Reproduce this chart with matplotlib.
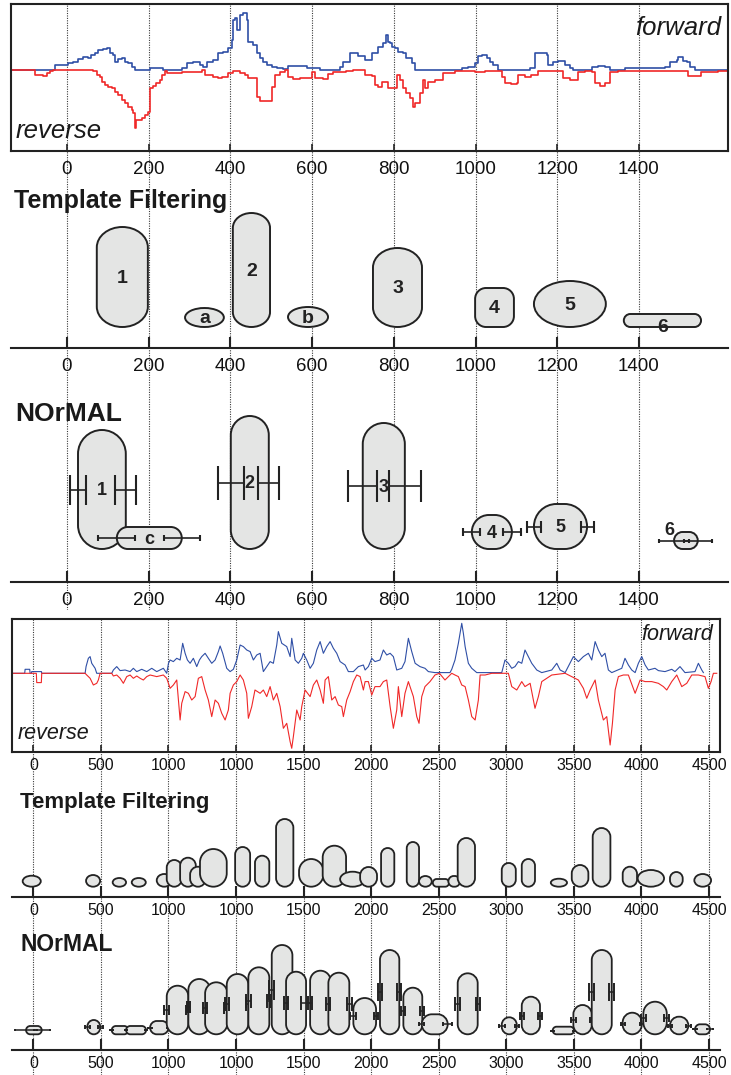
import matplotlib
matplotlib.use("Agg")
import matplotlib.pyplot as plt
from matplotlib.patches import Ellipse, PathPatch
from matplotlib.path import Path

plt.rcParams["font.family"] = ["Liberation Sans", "DejaVu Sans"]

# ---------------------------------------------------------------- short region
short_ticks = [0, 200, 400, 600, 800, 1000, 1200, 1400]

fwd_short_x = [-137, -29, 3, 15, 28, 40, 52, 60, 68, 77, 89, 97, 105, 113, 117, 126, 134, 142,
               150, 158, 166, 203, 236, 281, 293, 309, 325, 334, 342, 358, 370, 383, 395, 403,
               407, 411, 415, 423, 432, 440, 444, 456, 464, 472, 481, 489, 501, 513, 529, 542,
               562, 587, 619, 668, 676, 693, 713, 729, 746, 762, 774, 780, 785, 791, 795, 803,
               811, 823, 831, 844, 852, 966, 982, 999, 1007, 1015, 1027, 1035, 1043, 1056, 1133,
               1145, 1162, 1174, 1178, 1190, 1203, 1219, 1231, 1239, 1284, 1300, 1317, 1329, 1366,
               1464, 1476, 1492, 1496, 1508, 1517, 1525, 1537, 1618]
fwd_short_y = [0, 5, 6.7, 8.3, 10.7, 13.3, 11.7, 15, 16.7, 20, 20.7, 21.7, 16.7, 15, 8.3, 10.7, 11.7, 8.3,
               6.7, 3.3, 0, 1.7, 0, 1.7, 6.7, 7.7, 5, 3.3, 8.3, 10, 16.7, 18.3, 21.7, 30,
               50, 51.7, 40, 55, 56.7, 50, 28.3, 25, 16.7, 11.7, 8.3, 5, 3.3, 2.3, 0.7, 4,
               4, 1.7, 0, 3.3, 8.3, 16.7, 14, 10, 16.7, 23.3, 26.7, 35, 28.3, 26.7, 23.3, 21.7,
               18.3, 16.7, 11.7, 6.7, 0, 1.7, 3.3, 6.7, 14, 15, 11.7, 8.3, 5, 0, 1.7,
               16.7, 17.3, 15, 5, 8.3, 9, 5, 1.7, 0, 3.3, 4, 3.3, 0, 1.7,
               3.3, 8.3, 10, 12.7, 9.3, 8.3, 3.3, 0, 0]

rev_short_x = [-137, -78, -58, -50, -42, -33, 64, 73, 81, 85, 93, 101, 109, 117, 126, 134, 142, 150,
               158, 162, 166, 170, 183, 191, 199, 203, 211, 219, 228, 232, 240, 244, 281, 330,
               338, 358, 370, 379, 395, 407, 423, 436, 444, 464, 472, 501, 509, 521, 533, 542,
               554, 570, 599, 607, 627, 640, 652, 684, 701, 729, 746, 754, 762, 770, 786, 807,
               815, 823, 831, 840, 848, 852, 864, 872, 876, 884, 901, 921, 950, 999, 1023, 1064,
               1072, 1088, 1101, 1105, 1121, 1137, 1154, 1203, 1215, 1231, 1251, 1268, 1284, 1292,
               1305, 1317, 1329, 1349, 1464, 1521, 1553, 1594, 1618]
rev_short_y = [0, -5, -6, -3.3, -0.7, 0, -0.7, -5, -6.7, -11.7, -15, -17.3, -18.3, -21.7, -25, -30, -33.3, -36.7,
               -40, -43.3, -58.3, -50, -48.3, -45, -41.7, -18.3, -16, -13.3, -10, -5, -0.7, -3.3, -1.7, 0,
               -5, -6.7, -8.3, -6.7, -3.3, -0.7, -3.3, -5, -8.3, -26.7, -30.7, -16.7, -5, -1.7, 0, -6.7,
               -8.7, -8.3, -1.7, -8.3, -9, -4, -1.7, -0.7, 0, -5, -6, -15, -16.7, -11.7, -18.3, -5,
               -10, -18.3, -23.3, -28.3, -36.7, -33.3, -23.3, -10, -18.3, -11.7, -10, -3.3, -0.7, -1.7, -0.7, -6.7,
               -13.3, -14, -13.3, -5, -6.7, -5, -1, -0.7, -8.3, -10, -1.7, -0.7, -1.7, -13.3,
               -16, -13.3, -1.7, -1, -0.7, -6, -1.7, -0.7, 0]

# template filtering calls, short region
tf_short_start = [73, 289, 406, 541, 749, 999, 1143, 1363]
tf_short_end = [198, 384, 497, 639, 869, 1094, 1319, 1552]
tf_short_top = [12.1, 4.0, 13.5, 4.1, 10.0, 6.0, 6.7, 3.4]
tf_short_kind = ["o", "e", "o", "e", "o", "r", "e", "c"]
tf_short_label = ["1", "a", "2", "b", "3", "4", "5", "6"]
TF_SHORT_BASE = 2.1

# NOrMAL calls, short region (boundaries with their uncertainties)
nm_short_start = [27, 122, 401, 724, 991, 1143, 1486]
nm_short_end = [144, 281, 494, 827, 1089, 1273, 1544]
nm_short_top = [15.2, 5.5, 16.6, 15.9, 6.7, 7.8, 5.0]
nm_short_start_err = [20, 45, 32, 35, 21, 17, 37]
nm_short_end_err = [26, 44, 26, 39, 22, 16, 34]
nm_short_label = ["1", "c", "2", "3", "4", "5", "6"]
NM_SHORT_BASE = 3.3

# ---------------------------------------------------------------- long region
long_ticks = [0, 500, 1000, 1500, 2000, 2500, 3000, 3500, 4000, 4500, 5000]
long_tick_labels = ["0", "500", "1000", "1000", "1500", "2000", "2500", "3000", "3500", "4000", "4500"]

fwd_long_x = [-158, -64, -61, -27, -24, -14, -12, 60, 62, 383, 390, 407, 420, 432, 457, 469, 580, 592,
              617, 642, 679, 716, 740, 765, 802, 839, 876, 913, 962, 987, 1000, 1012, 1036, 1061, 1086,
              1105, 1123, 1140, 1160, 1184, 1209, 1229, 1246, 1271, 1295, 1320, 1345, 1369, 1382, 1401,
              1431, 1456, 1480, 1505, 1530, 1554, 1579, 1604, 1628, 1653, 1678, 1702, 1727, 1752, 1776,
              1801, 1813, 1838, 1875, 1900, 1912, 1937, 1961, 1986, 1998, 2023, 2048, 2072, 2097, 2122,
              2146, 2171, 2196, 2220, 2245, 2270, 2307, 2331, 2368, 2405, 2442, 2455, 2479, 2504, 2528,
              2565, 2590, 2615, 2640, 2664, 2689, 2726, 2750, 2775, 2800, 2825, 2861, 2898, 2923, 2972,
              3083, 3096, 3120, 3145, 3170, 3182, 3195, 3219, 3244, 3281, 3466, 3490, 3515, 3540, 3564,
              3589, 3614, 3638, 3663, 3688, 3725, 3762, 3836, 3873, 3898, 3935, 3996, 4033, 4070, 4107,
              4132, 4157, 4181, 4206, 4230, 4255, 4280, 4354, 4378, 4403, 4428, 4453, 4477, 4502, 4527,
              4551, 4600, 4625, 4674, 4724, 4748, 4785, 4822, 4896, 4921, 4946, 4958]
fwd_long_y = [0, 0, 4, 4, 0, 0, 1.7, 1.7, 0, 0, 6.7, 15, 16.7, 10, 5, 0, 0, 3.3,
              6.7, 2.7, 3.3, 1.7, 5, 1.7, 4, 1.7, 5, 1.7, 5, 0, 10, 13.3, 11.7, 15, 13.3,
              30, 20, 13.3, 10, 15, 6.7, 13.3, 16.7, 20, 15, 10, 13.3, 21.7, 27.3, 20,
              5, 1.7, 4, 13.3, 28.3, 26.7, 23.3, 21.7, 13.3, 18.3, 20, 1.7, 6.7, 11.7, 10,
              28.3, 41.7, 30, 26.7, 16.7, 35, 13.3, 10, 15, 20, 13.3, 5, 10, 23.3, 31.7,
              20, 26.7, 31.7, 25, 20, 11.7, 8.3, 1.7, 1.7, 6.7, 8.3, 3.3, 6.7, 15, 11.7,
              13.3, 23.3, 18.3, 20, 16.7, 3.3, 5, 11.7, 35, 21.7, 10, 6.7, 5, 1.7, 0.7,
              0.7, 4, 13.3, 30, 50, 40, 26.7, 10, 5, 0.7, 0.7, 13.3, 10, 5, 6.7,
              11.7, 10, 23.3, 16.7, 10, 3.3, 0.7, 3.3, 10, 3.3, 0.7, 16.7, 11.7, 16.7, 20,
              13.3, 31.7, 23.3, 16.7, 20, 3.3, 0.7, 5, 15, 8.3, 3.3, 0.7, 10, 16.7, 8.3,
              3.3, 5, 2.7, 1.7, 4, 1.7, 6.7, 0.7, 1.7, 10, 3.3, 0.7]

rev_long_x = [-158, 22, 25, 59, 62, 383, 395, 420, 444, 469, 481, 494, 580, 592, 617, 642, 666, 691,
              716, 740, 765, 790, 814, 839, 864, 913, 962, 987, 1012, 1036, 1061, 1086, 1098, 1123,
              1147, 1172, 1197, 1221, 1246, 1271, 1295, 1320, 1345, 1369, 1394, 1419, 1443, 1456, 1480,
              1505, 1530, 1554, 1579, 1591, 1616, 1640, 1678, 1702, 1727, 1752, 1776, 1801, 1826, 1850,
              1875, 1900, 1912, 1924, 1949, 1974, 1986, 2011, 2048, 2072, 2097, 2122, 2146, 2159, 2183,
              2208, 2233, 2257, 2282, 2294, 2319, 2344, 2368, 2393, 2418, 2442, 2455, 2479, 2504, 2528,
              2565, 2590, 2615, 2640, 2664, 2689, 2701, 2726, 2750, 2775, 2812, 2837, 2854, 2874, 2898,
              2935, 2972, 3005, 3046, 3096, 3120, 3145, 3170, 3195, 3219, 3244, 3269, 3293, 3306, 3343,
              3392, 3515, 3540, 3577, 3614, 3638, 3676, 3712, 3737, 3762, 3799, 3836, 3935, 3984, 4033,
              4070, 4095, 4120, 4157, 4181, 4218, 4243, 4268, 4285, 4305, 4329, 4366, 4403, 4453, 4490,
              4527, 4576, 4625, 4662, 4687, 4724, 4761, 4798, 4835, 4872, 4921, 4970, 4995, 5015, 5032,
              5057]
rev_long_y = [0, 0, -9.3, -9.3, 0, 0, -1.7, -5, -11.7, -10, -6.7, 0, 0, -2.7, -1.7, -5, -10, -3.3,
              -1.7, -5, -2.7, -5, -6.7, -3.3, -1.7, -3.3, -1.7, -5, -15, -11.7, -6.7, -46.7, -30, -18.3,
              -20, -26.7, -23.3, -5, -3.3, -16.7, -26.7, -43.3, -26.7, -30, -40, -46.7, -36.7, -20, -11.7,
              -8.3, -1.7, -6.7, -20, -45, -33.3, -16.7, -20, -16.7, -23.3, -13.3, -26.7, -20, -33.3, -55,
              -50, -68.3, -75, -63.3, -36.7, -46.7, -33.3, -16.7, -23.3, -11.7, -6.7, -16.7, -30, -6.7, -3.3,
              -26.7, -23.3, -31.7, -33.3, -43.3, -26.7, -18.3, -8.3, -1.7, -3.3, -16.7, -8.3, -8.3, -21.7, -13.3,
              -13.3, -8.3, -6.7, -33.3, -55, -36.7, -13.3, -43.3, -20, -8.3, -23.3, -43.3, -50, -23.3, -13.3,
              -8.3, -1.7, 0, -6.7, 0, -1.7, -3.3, -11.7, -13.3, -26.7, -43.3, -46.7, -26.7, -1.7, -1.7,
              0, 0, -13.3, -16.7, -8.3, -13.3, -10, -35, -23.3, -8.3, -5, -1.7, 0, -3.3, -6.7,
              -15, -25, -16.7, -6.7, -26.7, -46.7, -43.3, -71.7, -50, -16.7, -3.3, -1.7, -1.7, -20, -6.7,
              -8.3, -8.3, -10, -13.3, -16.7, -8.3, -1.7, -13.3, -10, -1.7, -1.7, -3.3, -15, -8.3, 0,
              0]

# template filtering calls, long region
tf_long_start = [-79, 390, 587, 728, 913, 987, 1086, 1160, 1233, 1493, 1640, 1796, 1966, 2141, 2270, 2418,
                 2573, 2763, 2854, 2956, 3071, 3140, 3466, 3614, 3829, 3984, 4139, 4361, 4472, 4711, 4891]
tf_long_end = [55, 494, 686, 832, 1024, 1098, 1202, 1276, 1431, 1604, 1746, 1924, 2146, 2314, 2455, 2543,
               2671, 2854, 2948, 3076, 3158, 3268, 3570, 3712, 3949, 4107, 4270, 4467, 4667, 4805, 5015]
tf_long_top = [2.13, 2.2, 1.9, 1.9, 2.3, 3.7, 3.93, 3.03, 4.8, 5.0, 4.13, 7.8, 3.8, 5.13, 2.53, 3.0,
               4.9, 5.5, 2.1, 1.8, 2.1, 5.9, 3.4, 3.8, 1.83, 3.2, 6.9, 3.03, 2.7, 2.5, 2.3]
tf_long_kind = ["e", "e", "e", "e", "e", "c", "c", "c", "c", "c", "c", "c", "c", "c", "e", "c",
                "c", "c", "e", "c", "c", "c", "c", "c", "e", "c", "c", "c", "e", "c", "e"]
TF_LONG_BASE = 1.03

# NOrMAL calls, long region
nm_long_start = [-54, 400, 580, 686, 864, 987, 1147, 1271, 1431, 1591, 1764, 1870, 2048, 2183, 2368,
                 2565, 2738, 2874, 3140, 3466, 3614, 3843, 3996, 4132, 4361, 4514, 4711, 4896]
nm_long_end = [62, 494, 703, 834, 1000, 1147, 1308, 1436, 1591, 1746, 1917, 2018, 2200, 2338, 2536,
               2708, 2878, 3066, 3288, 3577, 3749, 4001, 4132, 4280, 4502, 4687, 4847, 5007]
nm_long_top = [2.4, 3.0, 2.4, 2.4, 2.9, 6.43, 7.1, 6.77, 7.6, 8.27, 10.5, 7.83, 7.93, 7.73, 5.2,
               10.0, 6.23, 3.57, 7.67, 3.27, 5.33, 2.33, 4.5, 10.0, 3.73, 4.83, 3.33, 2.57]
nm_long_start_err = [80, 18, 10, 10, 12, 18, 12, 12, 16, 18, 18, 14, 14, 14, 22,
                     18, 14, 18, 18, 22, 14, 10, 18, 18, 14, 18, 14, 18]
nm_long_end_err = [60, 18, 10, 10, 12, 21, 12, 22, 16, 14, 18, 35, 14, 20, 14,
                   14, 14, 35, 14, 16, 14, 8, 10, 18, 14, 18, 18, 22]
NM_LONG_BASE = 1.57

# ---------------------------------------------------------------- styling
BLUE = "#2f4fa6"
RED = "#f02828"
EDGE = "#222222"
FILL = "#e4e5e4"
GRID = "#3a3a3a"

W, H = 731, 1075
fig = plt.figure(figsize=(W / 100, H / 100), dpi=100)


def panel(l, t, r, b):
    ax = fig.add_axes([l / W, 1 - b / H, (r - l) / W, (b - t) / H])
    ax.set_facecolor("none")
    return ax


def px_per_unit(ax):
    p0 = ax.transData.transform((0, 0))
    p1 = ax.transData.transform((1, 1))
    return p1[0] - p0[0], p1[1] - p0[1]


def capsule_path(x0, x1, y0, y1, rx, ry):
    k = 0.5523
    v = [(x0 + rx, y0), (x1 - rx, y0),
         (x1 - rx + k * rx, y0), (x1, y0 + ry - k * ry), (x1, y0 + ry),
         (x1, y1 - ry),
         (x1, y1 - ry + k * ry), (x1 - rx + k * rx, y1), (x1 - rx, y1),
         (x0 + rx, y1),
         (x0 + rx - k * rx, y1), (x0, y1 - ry + k * ry), (x0, y1 - ry),
         (x0, y0 + ry),
         (x0, y0 + ry - k * ry), (x0 + rx - k * rx, y0), (x0 + rx, y0),
         (x0 + rx, y0)]
    c = ([Path.MOVETO, Path.LINETO] + [Path.CURVE4] * 3 + [Path.LINETO] + [Path.CURVE4] * 3 +
         [Path.LINETO] + [Path.CURVE4] * 3 + [Path.LINETO] + [Path.CURVE4] * 3 + [Path.CLOSEPOLY])
    return Path(v, c)


def corner_radii(kind, w_px, h_px):
    """Corner radii in pixels for each outline kind."""
    if kind == "o":      # full-width caps, flattened vertically
        rx = w_px / 2
        return rx, min(h_px / 2, 0.4 * w_px)
    if kind == "r":      # softly rounded box
        r = 0.28 * min(w_px, h_px)
        return r, r
    r = 0.5 * min(w_px, h_px)   # stadium
    return r, r


def draw_shapes(ax, starts, ends, base, tops, kinds=None, lw=1.4):
    sx, sy = px_per_unit(ax)
    for i, (x0, x1, y1) in enumerate(zip(starts, ends, tops)):
        kind = kinds[i] if kinds else "c"
        if kind == "e":
            patch = Ellipse(((x0 + x1) / 2, (base + y1) / 2), x1 - x0, y1 - base)
        else:
            rx, ry = corner_radii(kind, (x1 - x0) * sx, (y1 - base) * sy)
            patch = PathPatch(capsule_path(x0, x1, base, y1, rx / sx, ry / sy))
        patch.set(facecolor=FILL, edgecolor=EDGE, linewidth=lw, zorder=3 + 2 * i)
        ax.add_patch(patch)


def draw_bounds(ax, starts, ends, base, tops, e0s, e1s, ratio, lw=1.2):
    sx, sy = px_per_unit(ax)
    for i, (x0, x1, y1, e0, e1) in enumerate(zip(starts, ends, tops, e0s, e1s)):
        cap_pt = ratio * (y1 - base) * sy / 2 * 72 / fig.dpi
        ym = (base + y1) / 2
        ax.errorbar([x0, x1], [ym, ym], xerr=[e0, e1], fmt="none", ecolor=EDGE,
                    elinewidth=lw, capsize=cap_pt, capthick=lw + 0.3, zorder=4 + 2 * i)


def grid_layer(l, t, r, b, xlim, ticks):
    g = panel(l, t, r, b)
    g.set_xlim(xlim)
    g.set_ylim(0, 1)
    g.axis("off")
    for x in ticks:
        g.axvline(x, color=GRID, lw=0.8, ls=(0, (1.0, 1.2)))


def signal_axes(ax, xlim, ylim, ticks, labels, fsize, pad):
    ax.set_xlim(xlim)
    ax.set_ylim(ylim)
    for s in ax.spines.values():
        s.set_linewidth(1.5)
        s.set_color(EDGE)
    ax.set_yticks([])
    ax.set_xticks(ticks, labels)
    ax.tick_params(axis="x", direction="in", length=5, width=1.2, pad=pad,
                   labelsize=fsize, color=EDGE, labelcolor="#111111")


def line_axes(ax, xlim, ylim, ticks, labels, fsize, pad):
    ax.set_xlim(xlim)
    ax.set_ylim(ylim)
    for k in ("top", "left", "right"):
        ax.spines[k].set_visible(False)
    ax.spines["bottom"].set_linewidth(1.5)
    ax.spines["bottom"].set_color(EDGE)
    ax.set_yticks([])
    ax.set_xticks(ticks, labels)
    ax.tick_params(axis="x", direction="in", length=8, width=1.5, pad=pad,
                   labelsize=fsize, color=EDGE, labelcolor="#111111")


SHORT_LIM = (-137, 1618)
LONG_LIM = (-158, 5081)

# dotted guide lines behind everything
grid_layer(11, 4, 728, 610, SHORT_LIM, short_ticks)
grid_layer(12, 619, 720, 1075, LONG_LIM, long_ticks)

# ---- short region: strand signals
ax = panel(11, 4, 728, 151)
signal_axes(ax, SHORT_LIM, (-81, 66), short_ticks, [str(t) for t in short_ticks], 13.5, 7)
ax.plot(fwd_short_x, fwd_short_y, color=BLUE, lw=1.2, drawstyle="steps-post")
ax.plot(rev_short_x, rev_short_y, color=RED, lw=1.2, drawstyle="steps-post")
ax.text(0.99, 0.79, "forward", transform=ax.transAxes, ha="right", va="baseline",
        fontsize=18.5, style="italic", color="#1a1a1a")
ax.text(0.006, 0.09, "reverse", transform=ax.transAxes, ha="left", va="baseline",
        fontsize=18.5, style="italic", color="#1a1a1a")

# ---- short region: template filtering
ax = panel(11, 178, 728, 348)
line_axes(ax, SHORT_LIM, (0, 17.0), short_ticks, [str(t) for t in short_ticks], 13.5, 7.5)
draw_shapes(ax, tf_short_start, tf_short_end, TF_SHORT_BASE, tf_short_top, tf_short_kind)
for i, lab in enumerate(tf_short_label):
    cx = (tf_short_start[i] + tf_short_end[i]) / 2
    cy = (TF_SHORT_BASE + tf_short_top[i]) / 2
    dy = -5 if lab == "6" else -1
    ax.annotate(lab, (cx, cy), xytext=(0, dy), textcoords="offset points", ha="center",
                va="center", fontsize=14, fontweight="bold", color="#222222", zorder=40)
fig.text(14 / W, 1 - 208 / H, "Template Filtering", fontsize=18, fontweight="bold",
         ha="left", va="baseline", color="#1a1a1a")

# ---- short region: NOrMAL
ax = panel(11, 390, 728, 582)
line_axes(ax, SHORT_LIM, (0, 19.2), short_ticks, [str(t) for t in short_ticks], 13.5, 7)
draw_shapes(ax, nm_short_start, nm_short_end, NM_SHORT_BASE, nm_short_top)
draw_bounds(ax, nm_short_start, nm_short_end, NM_SHORT_BASE, nm_short_top,
            nm_short_start_err, nm_short_end_err, 0.25)
for i, lab in enumerate(nm_short_label):
    cx = (nm_short_start[i] + nm_short_end[i]) / 2
    cy = (NM_SHORT_BASE + nm_short_top[i]) / 2
    off = (-12, 7) if lab == "6" else (0, -1)
    ax.annotate(lab, (cx, cy), xytext=off, textcoords="offset points", ha="center",
                va="center", fontsize=13, fontweight="bold", color="#222222", zorder=40)
fig.text(15 / W, 1 - 421 / H, "NOrMAL", fontsize=19, fontweight="bold",
         ha="left", va="baseline", color="#1a1a1a")

# ---- long region: strand signals
ax = panel(12, 619, 720, 752)
signal_axes(ax, LONG_LIM, (-78.7, 54.3), long_ticks, long_tick_labels, 11.5, 4.5)
ax.plot(fwd_long_x, fwd_long_y, color=BLUE, lw=0.8)
ax.plot(rev_long_x, rev_long_y, color=RED, lw=0.8)
ax.text(0.99, 0.84, "forward", transform=ax.transAxes, ha="right", va="baseline",
        fontsize=15.5, style="italic", color="#1a1a1a")
ax.text(0.008, 0.1, "reverse", transform=ax.transAxes, ha="left", va="baseline",
        fontsize=15.5, style="italic", color="#1a1a1a")

# ---- long region: template filtering
ax = panel(12, 780, 720, 897)
line_axes(ax, LONG_LIM, (0, 11.7), long_ticks, long_tick_labels, 11.5, 4)
draw_shapes(ax, tf_long_start, tf_long_end, TF_LONG_BASE, tf_long_top, tf_long_kind, lw=1.3)
fig.text(20 / W, 1 - 808 / H, "Template Filtering", fontsize=16, fontweight="bold",
         ha="left", va="baseline", color="#1a1a1a")

# ---- long region: NOrMAL
ax = panel(12, 925, 720, 1050)
line_axes(ax, LONG_LIM, (0, 12.5), long_ticks, long_tick_labels, 11.5, 4.5)
draw_shapes(ax, nm_long_start, nm_long_end, NM_LONG_BASE, nm_long_top, lw=1.3)
draw_bounds(ax, nm_long_start, nm_long_end, NM_LONG_BASE, nm_long_top,
            nm_long_start_err, nm_long_end_err, 0.22, lw=1.1)
fig.text(20 / W, 1 - 951 / H, "NOrMAL", fontsize=16.5, fontweight="bold",
         ha="left", va="baseline", color="#1a1a1a")

fig.savefig("out.png", dpi=100)
